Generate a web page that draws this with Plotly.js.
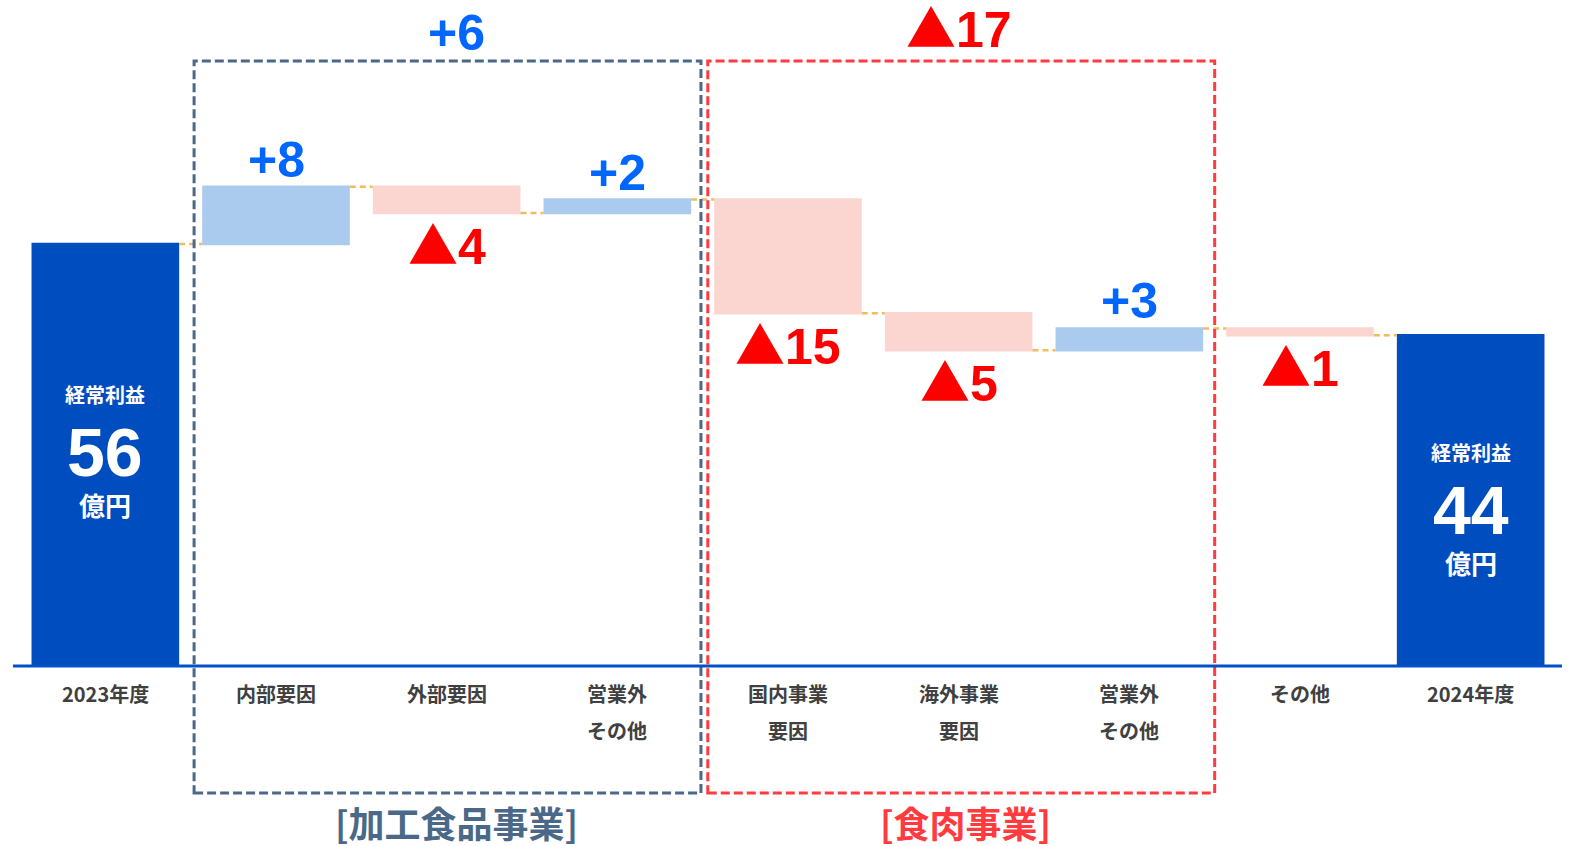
<!DOCTYPE html>
<html><head><meta charset="utf-8">
<script src="https://cdn.plot.ly/plotly-3.0.1.min.js"></script>
<style>html,body{margin:0;padding:0;background:#fff}#chart{width:1575px;height:846px}</style>
</head><body><div id="chart"></div>
<script>
// ---- data ----
const catLine1 = ['2023年度','内部要因','外部要因','営業外','国内事業','海外事業','営業外','その他','2024年度'];
const catLine2 = ['','','','その他','要因','要因','その他','',''];
const measures = ['absolute','relative','relative','relative','relative','relative','relative','relative','total'];
const values   = [56, 7.6, -3.5, 1.8, -15.1, -4.9, 2.9, -0.9, 0];
const groupNames  = ['[加工食品事業]','[食肉事業]'];
const groupStart  = [1, 4];
const groupEnd    = [3, 6];
const totalTitle = '経常利益';
const totalUnit  = '億円';

// ---- styles ----
const C_TOTAL='#004DBF', C_UP='#AACBEE', C_DOWN='#FBD6D1', C_CONN='#F0BC5E';
const C_PLUS='#0066FF', C_MINUS='#FF0000';
const groupColors=['#4A6888','#FF3B3F'];
const groupBoxX=[[0.52,3.49],[3.53,6.5]];
const groupLabelShift=[10,0];
const groupLabelY=[0.98,0.992];
const groupBottomShift=[10,7];
const LATIN='"Liberation Sans", Arial, "Noto Sans CJK JP", sans-serif';
const CJK='"Noto Sans CJK JP", "Liberation Sans", sans-serif';

const xs = catLine1.map((_,i)=>i);
// cumulative levels
const levels=[]; let run=0;
values.forEach((v,i)=>{ if(measures[i]==='absolute') run=v; else if(measures[i]==='relative') run+=v; levels.push(run); });
const TRI='<span style="font-family:\'Noto Sans CJK JP\'">▲</span>';
const fmt = v => (v>=0?'+':TRI)+Math.round(Math.abs(v));

const ann=[];
// delta labels
values.forEach((v,i)=>{
  if(measures[i]!=='relative') return;
  ann.push({x:i,y:levels[i],xref:'x',yref:'y',text:'<b>'+fmt(v)+'</b>',showarrow:false,
    yanchor:'middle',yshift: v>=0? 27 : -29,
    font:{family:LATIN,size:50,color: v>=0?C_PLUS:C_MINUS}});
});
// total bar texts
const totalOffsets={0:-3,8:9};
values.forEach((v,i)=>{
  if(measures[i]==='relative') return;
  const mid=levels[i]/2, o=totalOffsets[i]||0;
  ann.push({x:i,y:mid,xref:'x',yref:'y',text:'<b>'+totalTitle+'</b>',showarrow:false,yanchor:'middle',yshift:57-o,font:{family:CJK,size:20,color:'#fff'}});
  ann.push({x:i,y:mid,xref:'x',yref:'y',text:'<b>'+Math.round(levels[i])+'</b>',showarrow:false,yanchor:'middle',yshift:0-o,font:{family:LATIN,size:68,color:'#fff'}});
  ann.push({x:i,y:mid,xref:'x',yref:'y',text:'<b>'+totalUnit+'</b>',showarrow:false,yanchor:'middle',yshift:-53-o,font:{family:CJK,size:26,color:'#fff'}});
});
// category labels
xs.forEach(i=>{
  ann.push({x:i,y:-0.0418,xref:'x',yref:'paper',text:'<b>'+catLine1[i]+'</b>',showarrow:false,yanchor:'middle',font:{family:CJK,size:20,color:'#404040'}});
  if(catLine2[i]) ann.push({x:i,y:-0.1006,xref:'x',yref:'paper',text:'<b>'+catLine2[i]+'</b>',showarrow:false,yanchor:'middle',font:{family:CJK,size:20,color:'#404040'}});
});
// group labels and boxes
const shapes=[];
groupNames.forEach((g,k)=>{
  let s=0; for(let i=groupStart[k];i<=groupEnd[k];i++) s+=values[i];
  const cx=(groupStart[k]+groupEnd[k])/2;
  ann.push({x:cx,y:groupLabelY[k],xref:'x',yref:'paper',text:'<b>'+fmt(s)+'</b>',showarrow:false,yanchor:'middle',xshift:groupLabelShift[k],font:{family:LATIN,size:50,color: s>=0?C_PLUS:C_MINUS}});
  ann.push({x:cx,y:-0.241,xref:'x',yref:'paper',text:'<b>'+g+'</b>',showarrow:false,yanchor:'middle',xshift:groupBottomShift[k],font:{family:CJK,size:36,color:groupColors[k]}});
  shapes.push({type:'rect',xref:'x',yref:'paper',x0:groupBoxX[k][0],x1:groupBoxX[k][1],y0:-0.1966,y1:0.9365,
    line:{color:groupColors[k],width:3,dash:'9px,4px'},fillcolor:'rgba(0,0,0,0)',layer:'above'});
});
// baseline
shapes.push({type:'line',xref:'paper',yref:'paper',x0:-0.0046,x1:1.0039,y0:0,y1:0,line:{color:'#0050C8',width:3},layer:'above'});

const trace={type:'waterfall',x:xs,y:values,measure:measures,
  increasing:{marker:{color:C_UP}},decreasing:{marker:{color:C_DOWN}},totals:{marker:{color:C_TOTAL}},
  connector:{mode:'between',line:{color:C_CONN,width:2.5,dash:'6px,4px'}},
  textinfo:'none',hoverinfo:'skip',cliponaxis:false};

const layout={width:1575,height:846,margin:{l:20,r:19,t:20,b:180},
  paper_bgcolor:'#fff',plot_bgcolor:'#fff',showlegend:false,waterfallgap:0.135,
  xaxis:{range:[-0.5,8.5],showticklabels:false,showgrid:false,zeroline:false,showline:false,ticks:''},
  yaxis:{range:[0,646/7.536],showticklabels:false,showgrid:false,zeroline:false,showline:false,ticks:''},
  annotations:ann,shapes:shapes};
Plotly.newPlot('chart',[trace],layout,{displayModeBar:false,staticPlot:true});
</script></body></html>
